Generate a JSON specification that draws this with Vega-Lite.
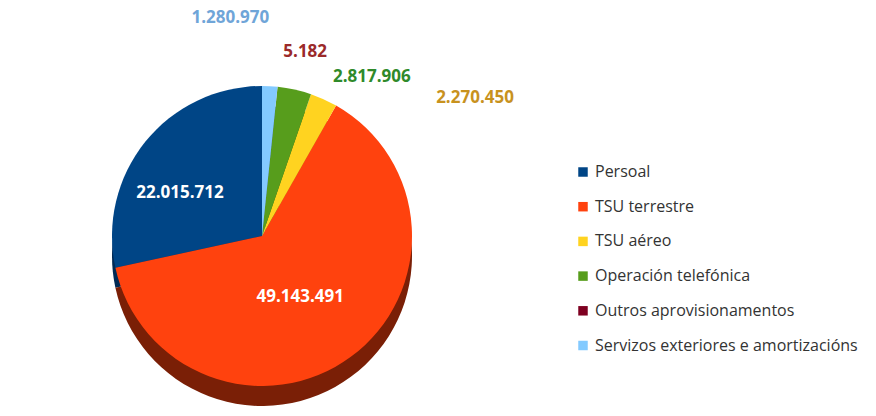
{
  "$schema": "https://vega.github.io/schema/vega-lite/v6.json",
  "width": 524,
  "height": 416,
  "autosize": "none",
  "padding": {"left": 0, "top": 0, "right": 352, "bottom": 0},
  "background": "white",
  "config": {"view": {"stroke": null}, "font": "Open Sans"},
  "data": {"values": [
    {"categoria": "Persoal", "valor": 22015712, "etiqueta": "22.015.712", "orde": 6},
    {"categoria": "TSU terrestre", "valor": 49143491, "etiqueta": "49.143.491", "orde": 5},
    {"categoria": "TSU aéreo", "valor": 2270450, "etiqueta": "2.270.450", "orde": 4},
    {"categoria": "Operación telefónica", "valor": 2817906, "etiqueta": "2.817.906", "orde": 3},
    {"categoria": "Outros aprovisionamentos", "valor": 5182, "etiqueta": "5.182", "orde": 2},
    {"categoria": "Servizos exteriores e amortizacións", "valor": 1280970, "etiqueta": "1.280.970", "orde": 1}
  ]},
  "encoding": {
    "theta": {"field": "valor", "type": "quantitative", "stack": true},
    "order": {"field": "orde", "type": "quantitative", "sort": "ascending"}
  },
  "resolve": {"scale": {"color": "independent"}, "legend": {"color": "independent"}},
  "layer": [
    {
      "mark": {"type": "arc", "outerRadius": 150, "yOffset": 48},
      "encoding": {
        "color": {"field": "categoria", "type": "nominal", "legend": null,
          "scale": {"domain": ["Persoal", "TSU terrestre", "TSU aéreo", "Operación telefónica", "Outros aprovisionamentos", "Servizos exteriores e amortizacións"],
            "range": ["#002a55", "#7a1f06", "#a08415", "#35600f", "#4d0014", "#4f7ea0"]}}
      }
    },
    {
      "mark": {"type": "arc", "outerRadius": 150, "yOffset": 28},
      "encoding": {
        "color": {"field": "categoria", "type": "nominal",
          "scale": {"domain": ["Persoal", "TSU terrestre", "TSU aéreo", "Operación telefónica", "Outros aprovisionamentos", "Servizos exteriores e amortizacións"],
            "range": ["#004586", "#ff420e", "#ffd320", "#579d1c", "#7e0021", "#83caff"]},
          "legend": {"title": null, "orient": "none", "legendX": 575, "legendY": 164,
            "symbolType": "square", "symbolSize": 90, "symbolStrokeWidth": 0,
            "labelFontSize": 16, "labelFont": "Open Sans", "labelColor": "#333333",
            "labelOffset": 4, "rowPadding": 18.7, "labelLimit": 400}}
      }
    },
    {
      "mark": {"type": "text", "radius": 95, "yOffset": 28, "dx": -8, "dy": 17, "fontSize": 17, "fontWeight": "bold", "color": "white"},
      "encoding": {"text": {"condition": {"test": "datum.categoria == 'Persoal'", "field": "etiqueta"}, "value": ""}}
    },
    {
      "mark": {"type": "text", "radius": 95, "yOffset": 28, "dx": -18, "dy": -16, "fontSize": 17, "fontWeight": "bold", "color": "white"},
      "encoding": {"text": {"condition": {"test": "datum.categoria == 'TSU terrestre'", "field": "etiqueta"}, "value": ""}}
    },
    {
      "mark": {"type": "text", "radius": 200, "yOffset": 28, "dx": -42, "dy": -18, "fontSize": 17, "fontWeight": "bold", "color": "#6fa5d8"},
      "encoding": {"text": {"condition": {"test": "datum.categoria == 'Servizos exteriores e amortizacións'", "field": "etiqueta"}, "value": ""}}
    },
    {
      "mark": {"type": "text", "radius": 175, "yOffset": 28, "dx": 25, "dy": -10, "fontSize": 17, "fontWeight": "bold", "color": "#9b2a2a"},
      "encoding": {"text": {"condition": {"test": "datum.categoria == 'Outros aprovisionamentos'", "field": "etiqueta"}, "value": ""}}
    },
    {
      "mark": {"type": "text", "radius": 170, "yOffset": 28, "dx": 73, "dy": 7, "fontSize": 17, "fontWeight": "bold", "color": "#2f8a2a"},
      "encoding": {"text": {"condition": {"test": "datum.categoria == 'Operación telefónica'", "field": "etiqueta"}, "value": ""}}
    },
    {
      "mark": {"type": "text", "radius": 170, "yOffset": 28, "dx": 143, "dy": 17, "fontSize": 17, "fontWeight": "bold", "color": "#c8921e"},
      "encoding": {"text": {"condition": {"test": "datum.categoria == 'TSU aéreo'", "field": "etiqueta"}, "value": ""}}
    }
  ]
}
